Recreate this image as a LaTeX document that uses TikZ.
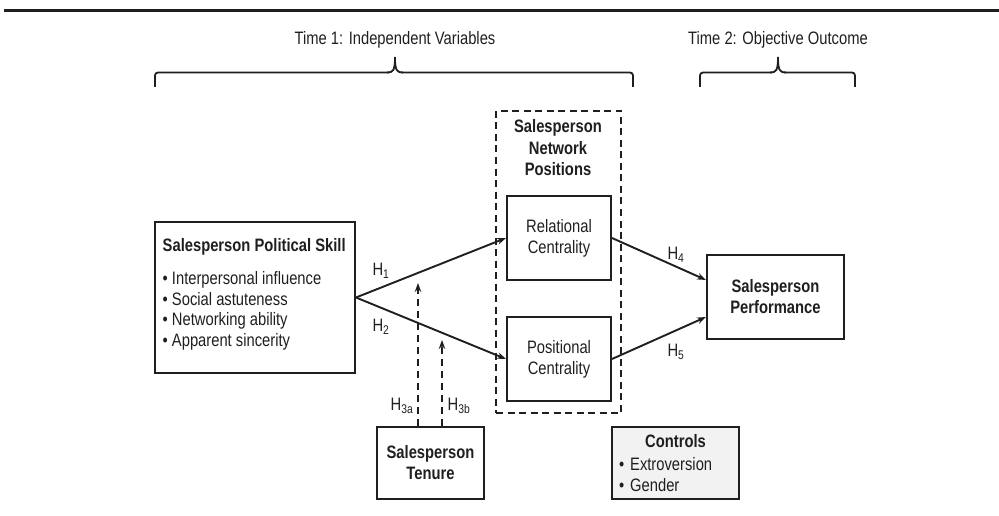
\documentclass[tikz,border=0pt]{standalone}
\usepackage{fontspec}
\setmainfont{Liberation Sans}[FakeStretch=0.82]
\usetikzlibrary{arrows.meta,calc}
\definecolor{ink}{HTML}{1F1F1F}
\definecolor{ctrl}{HTML}{F2F2F2}
\begin{document}
\begin{tikzpicture}[x=1pt,y=-1pt,
  every node/.style={text=ink, font=\fontsize{18}{21}\selectfont},
  bf/.style={font=\fontsize{18}{21}\selectfont\bfseries},
  box/.style={draw=ink, line width=2pt, inner sep=0pt},
  txt/.style={inner sep=0pt, anchor=base west},
  arr/.style={draw=ink, line width=1.9pt, -{Stealth[length=9pt,width=6.5pt]}},
  darr/.style={draw=ink, line width=1.7pt, dash pattern=on 7pt off 5pt, -{Stealth[length=9pt,width=6.5pt]}},
  hlab/.style={inner sep=0pt},
  brace/.style={draw=ink, line width=1.8pt, rounded corners=3pt},
  tip/.style={draw=ink, line width=1.8pt}]
\useasboundingbox (0,0) rectangle (999,516);
\draw[ink, line width=3pt] (4,11) -- (999,11);

% time headings
\node (t1) at (395,40) {Time 1: Independent Variables};
\node (t2) at (778,40) {Time 2: Objective Outcome};

% braces
\draw[brace] (155,87) -- (155,72.5) -- (389,72.5);
\draw[tip] (387,72.5) .. controls (393,72.5) and (395,71) .. (395,57) .. controls (395,71) and (397,72.5) .. (403,72.5);
\draw[brace] (401,72.5) -- (633,72.5) -- (633,87);
\draw[brace] (700,87) -- (700,72.5) -- (772,72.5);
\draw[tip] (770,72.5) .. controls (776,72.5) and (778,71) .. (778,57) .. controls (778,71) and (780,72.5) .. (786,72.5);
\draw[brace] (784,72.5) -- (855,72.5) -- (855,87);

% political skill
\node[box, minimum width=200pt, minimum height=151pt] (ps) at (255,297.5) {};
\node[txt, bf] (pst) at (162.5,251.7) {Salesperson Political Skill};
\node[txt] (psa) at (162.5,284.3) {• Interpersonal influence};
\node[txt] (psb) at (162.5,305.1) {• Social astuteness};
\node[txt] (psc) at (162.5,325.9) {• Networking ability};
\node[txt] (psd) at (162.5,346.7) {• Apparent sincerity};

% network positions
\node[box, dash pattern=on 7pt off 4.5pt, minimum width=125pt, minimum height=302pt] (net) at (558.5,262) {};
\node[bf, align=center, font=\fontsize{18}{21.5}\selectfont\bfseries] (nett) at (558,148) {Salesperson\\Network\\Positions};
\node[box, minimum width=104pt, minimum height=84pt, align=center] (rel) at (559,238) {Relational\\Centrality};
\node[box, minimum width=104pt, minimum height=84pt, align=center] (pos) at (559,359) {Positional\\Centrality};

% performance
\node[box, bf, minimum width=137pt, minimum height=84pt, align=center] (perf) at (775.5,297) {Salesperson\\Performance};

% tenure
\node[box, bf, minimum width=107pt, minimum height=72pt, align=center] (ten) at (430.5,463) {Salesperson\\Tenure};

% controls
\node[box, fill=ctrl, minimum width=127pt, minimum height=72pt, text width=113pt, align=left] (ctl) at (675.5,463)
  {\makebox[113pt]{\bfseries Controls}\\[2pt]
   • Extroversion\\
   • Gender};

% arrows
\draw[arr] (ps.east) -- (rel.west);
\draw[arr] (ps.east) -- (pos.west);
\draw[arr] (rel.east) -- ($(perf.west)+(0,-17)$);
\draw[arr] (pos.east) -- ($(perf.west)+(0,20)$);
\coordinate (h3a) at (418,283);
\coordinate (h3b) at (442,340);
\draw[darr] (ten.north -| h3a) -- (h3a);
\draw[darr] (ten.north -| h3b) -- (h3b);

% labels
\node[hlab] (l1) at (381,271) {H\textsubscript{1}};
\node[hlab] (l2) at (381,327) {H\textsubscript{2}};
\node[hlab] (l3a) at (402,406) {H\textsubscript{3a}};
\node[hlab] (l3b) at (459,406) {H\textsubscript{3b}};
\node[hlab] (l4) at (676,255) {H\textsubscript{4}};
\node[hlab] (l5) at (676,352) {H\textsubscript{5}};
\end{tikzpicture}
\end{document}
